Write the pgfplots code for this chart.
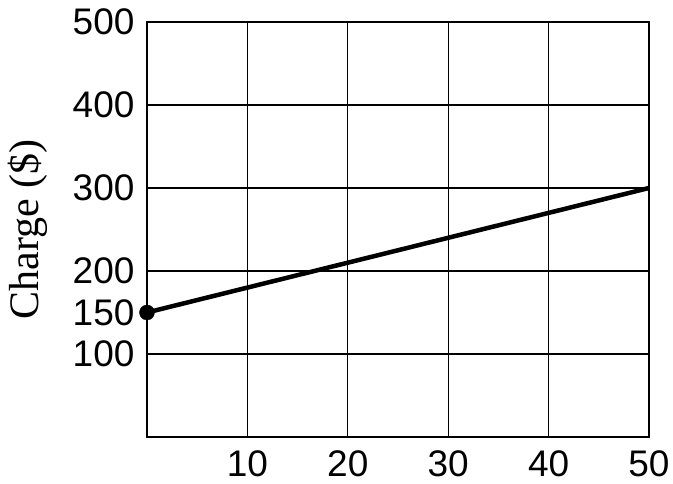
\documentclass[border=0pt]{standalone}
\usepackage{fontspec}
\setmainfont{Liberation Serif}
\setsansfont{Liberation Sans}
\usepackage{pgfplots}
\pgfplotsset{compat=1.18}
\begin{document}
\begin{tikzpicture}
\begin{axis}[
  scale only axis,
  width=502pt, height=415pt,
  xmin=0, xmax=50, ymin=0, ymax=500,
  xtick={10,20,30,40,50},
  ytick={100,200,300,400,500},
  extra y ticks={150},
  extra y tick style={grid=none},
  grid=major,
  grid style={black, line width=1.3pt},
  axis line style={black, line width=1.6pt},
  major tick length=0pt,
  /pgf/number format/assume math mode=true,
  ticklabel style={font=\sffamily\fontsize{37}{37}\selectfont},
  yticklabel style={xshift=-9pt},
  xticklabel style={yshift=-10pt},
  ylabel={Charge (\$)},
  every axis y label/.style={at={(axis description cs:0,0.5)}, rotate=90, anchor=center, yshift=119pt, font=\fontsize{42}{42}\selectfont},
  clip=false,
]
\addplot[black, line width=4.5pt] coordinates {(0,150) (50,300)};
\addplot[black, only marks, mark=*, mark size=7.5pt] coordinates {(0,150)};
\end{axis}
\pgfresetboundingbox
\path (-147pt,-47pt) rectangle (526pt,437pt);
\end{tikzpicture}
\end{document}
